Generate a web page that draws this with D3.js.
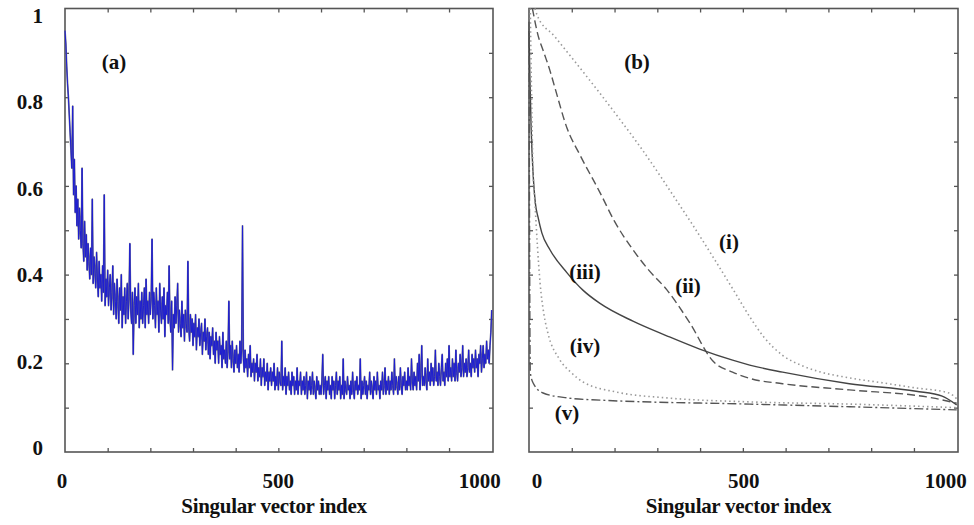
<!DOCTYPE html>
<html><head><meta charset="utf-8">
<script src="https://cdn.jsdelivr.net/npm/d3@7"></script>
<style>
body{margin:0;background:#fff}
svg{display:block}
text{font-family:"Liberation Serif","Times New Roman",serif;font-weight:bold;fill:#111}
</style>
</head><body><svg id="c" width="974" height="525"></svg>
<script>
// ---- data ----
// panel (a): sampled every 2nd singular vector index (0..1000)
const stepA = 2;
const seriesA = [
0.95,0.92,0.87,0.83,0.80,0.76,0.72,0.68,0.64,0.78,
0.58,0.66,0.54,0.60,0.51,0.57,0.48,0.55,0.50,0.46,
0.64,0.47,0.43,0.52,0.44,0.49,0.41,0.47,0.43,0.39,
0.46,0.40,0.57,0.38,0.44,0.41,0.37,0.45,0.39,0.35,
0.43,0.37,0.40,0.34,0.42,0.36,0.58,0.33,0.39,0.35,
0.41,0.33,0.37,0.40,0.32,0.36,0.42,0.31,0.38,0.34,
0.30,0.39,0.34,0.29,0.37,0.32,0.40,0.28,0.35,0.31,
0.37,0.29,0.34,0.38,0.30,0.35,0.47,0.32,0.29,0.36,
0.22,0.33,0.37,0.29,0.35,0.31,0.38,0.28,0.34,0.30,
0.36,0.29,0.33,0.37,0.28,0.39,0.31,0.34,0.29,0.36,
0.31,0.35,0.48,0.30,0.36,0.33,0.28,0.37,0.31,0.34,
0.27,0.38,0.32,0.29,0.35,0.30,0.37,0.26,0.33,0.31,
0.36,0.29,0.42,0.30,0.27,0.34,0.185,0.31,0.28,0.35,
0.29,0.33,0.38,0.27,0.32,0.29,0.26,0.34,0.28,0.31,
0.25,0.32,0.29,0.27,0.43,0.28,0.25,0.31,0.27,0.30,
0.24,0.29,0.26,0.31,0.23,0.28,0.26,0.30,0.24,0.27,
0.29,0.22,0.27,0.25,0.30,0.23,0.26,0.28,0.22,0.27,
0.21,0.26,0.24,0.28,0.22,0.25,0.20,0.27,0.23,0.25,
0.20,0.26,0.22,0.24,0.19,0.27,0.21,0.23,0.20,0.25,
0.19,0.23,0.34,0.21,0.24,0.19,0.25,0.21,0.18,0.23,
0.20,0.24,0.19,0.22,0.18,0.25,0.20,0.23,0.51,0.21,
0.18,0.23,0.19,0.21,0.17,0.22,0.19,0.24,0.17,0.20,
0.18,0.21,0.16,0.20,0.18,0.22,0.16,0.19,0.17,0.21,
0.15,0.19,0.17,0.21,0.15,0.18,0.16,0.20,0.14,0.18,
0.16,0.19,0.15,0.18,0.16,0.20,0.14,0.17,0.15,0.19,
0.14,0.18,0.16,0.15,0.25,0.14,0.17,0.15,0.19,0.13,
0.17,0.15,0.18,0.14,0.16,0.13,0.18,0.15,0.17,0.13,
0.16,0.14,0.19,0.13,0.16,0.15,0.18,0.13,0.16,0.14,
0.17,0.13,0.15,0.18,0.12,0.16,0.14,0.17,0.13,0.15,
0.18,0.13,0.16,0.14,0.12,0.17,0.14,0.16,0.13,0.15,
0.13,0.16,0.22,0.13,0.15,0.17,0.12,0.16,0.14,0.17,
0.13,0.15,0.12,0.17,0.14,0.16,0.12,0.15,0.18,0.13,
0.16,0.14,0.17,0.12,0.15,0.13,0.21,0.12,0.16,0.14,
0.13,0.17,0.14,0.15,0.12,0.16,0.13,0.18,0.14,0.12,
0.16,0.14,0.17,0.13,0.15,0.14,0.21,0.12,0.16,0.13,
0.15,0.17,0.13,0.16,0.12,0.15,0.14,0.18,0.13,0.16,
0.14,0.12,0.17,0.14,0.16,0.13,0.18,0.14,0.15,0.12,
0.16,0.14,0.18,0.13,0.15,0.19,0.13,0.16,0.14,0.17,
0.13,0.16,0.14,0.18,0.15,0.13,0.21,0.14,0.17,0.15,
0.13,0.17,0.14,0.19,0.15,0.13,0.17,0.15,0.18,0.14,
0.16,0.14,0.19,0.15,0.17,0.14,0.21,0.16,0.14,0.18,
0.15,0.17,0.14,0.20,0.16,0.22,0.14,0.18,0.24,0.15,
0.17,0.15,0.19,0.16,0.14,0.21,0.16,0.18,0.15,0.20,
0.16,0.19,0.15,0.17,0.23,0.16,0.18,0.15,0.20,0.17,
0.15,0.19,0.22,0.16,0.18,0.15,0.20,0.17,0.21,0.16,
0.24,0.17,0.19,0.16,0.21,0.17,0.20,0.16,0.23,0.18,
0.16,0.20,0.18,0.22,0.17,0.19,0.24,0.17,0.20,0.18,
0.21,0.17,0.19,0.23,0.18,0.20,0.17,0.22,0.19,0.21,
0.18,0.23,0.19,0.21,0.17,0.22,0.20,0.24,0.18,0.21,
0.24,0.19,0.22,0.20,0.25,0.21,0.23,0.20,0.24,0.27,
0.32
];

// panel (b): [singular vector index, value]
const curveI   = [[14,1.0],[19,0.985],[60,0.937],[110,0.877],[160,0.816],[210,0.753],[260,0.688],[310,0.618],[336,0.58],[380,0.516],[430,0.44],[480,0.362],[516,0.305],[550,0.258],[593,0.218],[640,0.194],[672,0.183],[750,0.167],[826,0.156],[900,0.145],[982,0.133],[1000,0.12]];
const curveII  = [[8,1.0],[21,0.94],[35,0.9],[49,0.86],[61,0.82],[89,0.73],[119,0.67],[166,0.585],[200,0.52],[243,0.456],[280,0.41],[322,0.366],[376,0.291],[430,0.205],[476,0.18],[516,0.166],[593,0.154],[749,0.14],[943,0.122],[1000,0.11]];
const curveIII = [[0,0.95],[2,0.85],[5,0.73],[10,0.62],[15,0.56],[21,0.53],[30,0.494],[49,0.456],[89,0.404],[126,0.365],[166,0.335],[243,0.295],[322,0.262],[399,0.232],[476,0.207],[516,0.196],[593,0.18],[749,0.154],[905,0.137],[966,0.126],[1000,0.106]];
const curveIV  = [[3,1.0],[6,0.8],[9,0.65],[14,0.56],[20,0.46],[26,0.38],[35,0.31],[44,0.269],[72,0.208],[100,0.178],[126,0.158],[205,0.135],[322,0.122],[516,0.113],[750,0.108],[1000,0.1]];
const curveV   = [[0,0.97],[1,0.6],[2,0.3],[3,0.18],[10,0.155],[33,0.133],[89,0.122],[166,0.117],[516,0.108],[750,0.102],[1000,0.095]];
const curveNames = ["(i)","(ii)","(iii)","(iv)","(v)"];

const yTickLabels = [0,0.2,0.4,0.6,0.8,1];
const yMinorTicks = [0.1,0.2,0.3,0.4,0.5,0.6,0.7,0.8,0.9];
const xTickLabels = [0,500,1000];
const xMinorTicks = [100,200,300,400,500,600,700,800,900];
const xTitle = "Singular vector index";
const panelNames = ["(a)","(b)"];

// ---- layout ----
const svg = d3.select("#c");
const yTop = 8.5, yBottom = 452;
const panels = [{l:65, r:493}, {l:529, r:958}];
const y = d3.scaleLinear().domain([0,1]).range([yBottom, yTop]);
const yLab = d3.scaleLinear().domain([0,1]).range([448, 16]);
const xs = panels.map(p => d3.scaleLinear().domain([0,1003]).range([p.l, p.r]));
const xLabDx = [[-3,0,-12],[8,1,-11]];

panels.forEach((p,pi) => {
  const x = xs[pi];
  const g = svg.append("g");
  const tickStyle = sel => { sel.select(".domain").remove(); sel.selectAll("line").attr("stroke","#555").attr("stroke-width",1.3); };
  g.append("g").attr("transform",`translate(0,${yBottom})`).call(d3.axisBottom(x).tickValues(xMinorTicks).tickSize(-4).tickFormat("")).call(tickStyle);
  g.append("g").attr("transform",`translate(0,${yTop})`).call(d3.axisTop(x).tickValues(xMinorTicks).tickSize(-4).tickFormat("")).call(tickStyle);
  g.append("g").attr("transform",`translate(${p.l},0)`).call(d3.axisLeft(y).tickValues(yMinorTicks).tickSize(-4).tickFormat("")).call(tickStyle);
  g.append("g").attr("transform",`translate(${p.r},0)`).call(d3.axisRight(y).tickValues(yMinorTicks).tickSize(-4).tickFormat("")).call(tickStyle);
  g.append("rect").attr("x",p.l).attr("y",yTop).attr("width",p.r-p.l).attr("height",yBottom-yTop)
    .attr("fill","none").attr("stroke","#555").attr("stroke-width",1.6);

  // x tick labels
  g.selectAll(".xl").data(xTickLabels).join("text")
    .attr("x",(d,i)=>x(d)+xLabDx[pi][i]).attr("y",488)
    .attr("text-anchor","middle").attr("font-size",21).text(d=>d);
  // x title
  g.append("text").attr("x",(p.l+p.r)/2-5).attr("y",513).attr("text-anchor","middle")
    .attr("font-size",21).attr("letter-spacing",-0.3).text(xTitle);
  // panel label
  g.append("text").attr("x",pi===0?114:637).attr("y",69).attr("text-anchor","middle")
    .attr("font-size",21).text(panelNames[pi]);
});

// y tick labels (left panel only)
svg.selectAll(".yl").data(yTickLabels).join("text")
  .attr("x",43).attr("y",d=>yLab(d)+7).attr("text-anchor","end")
  .attr("font-size",21).text(d=>d);

// panel (a) series
const xa = xs[0];
const lineA = d3.line().x((d,i)=>xa(i*stepA)).y(d=>y(d));
svg.append("path").attr("d",lineA(seriesA)).attr("fill","none")
  .attr("stroke","#707086").attr("stroke-width",1.7).attr("stroke-linejoin","round");
svg.append("path").attr("d",lineA(seriesA)).attr("fill","none")
  .attr("stroke","#1e1ed2").attr("stroke-width",1.0).attr("stroke-linejoin","round");

// panel (b) curves
const xb = xs[1];
const lineB = d3.line().x(d=>xb(d[0])).y(d=>y(d[1])).curve(d3.curveMonotoneX);
const styles = [
  {data:curveI,   stroke:"#9a9a9a", w:1.6, dash:"1.5,3"},
  {data:curveII,  stroke:"#555",    w:1.4, dash:"8,4"},
  {data:curveIII, stroke:"#444",    w:1.4, dash:null},
  {data:curveIV,  stroke:"#9a9a9a", w:1.6, dash:"1.5,3"},
  {data:curveV,   stroke:"#555",    w:1.4, dash:"9,3,2,3"}
];
styles.forEach(s => {
  svg.append("path").attr("d",lineB(s.data)).attr("fill","none")
    .attr("stroke",s.stroke).attr("stroke-width",s.w)
    .attr("stroke-dasharray",s.dash);
});
const curveLabelPos = [[729,249],[688,293],[585,279],[585,353],[567,420]];
svg.selectAll(".cl").data(curveNames).join("text")
  .attr("x",(d,i)=>curveLabelPos[i][0]).attr("y",(d,i)=>curveLabelPos[i][1])
  .attr("text-anchor","middle").attr("font-size",21).text(d=>d);
</script>
</body></html>
